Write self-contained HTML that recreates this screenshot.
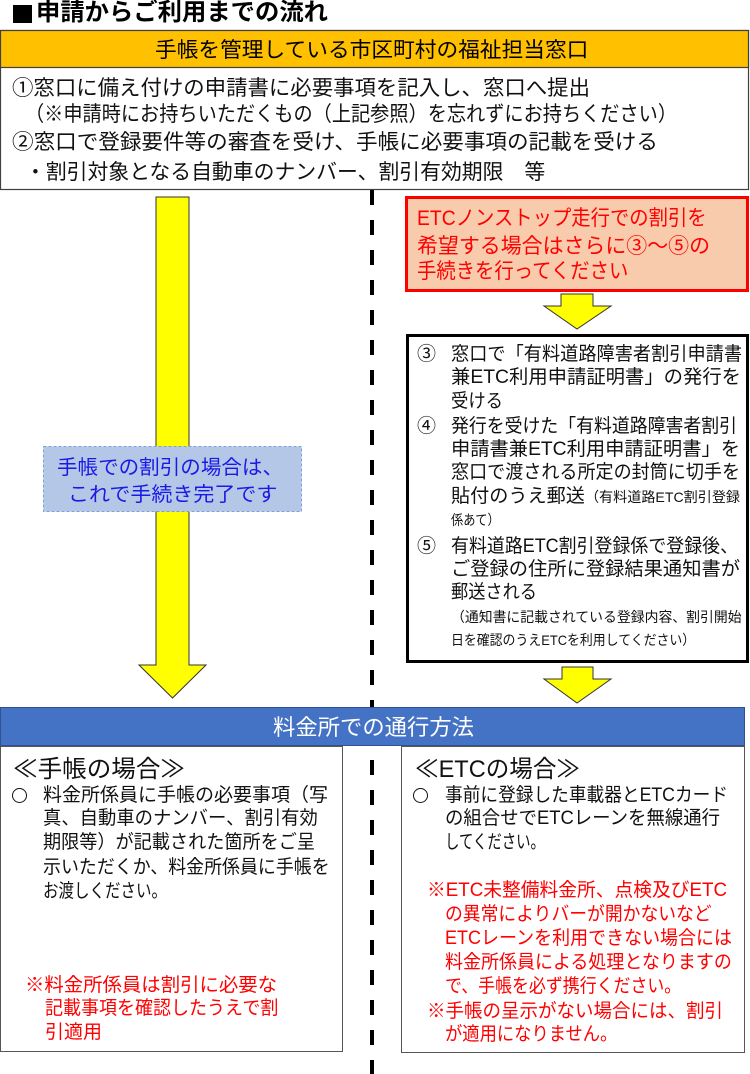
<!DOCTYPE html>
<html><head><meta charset="utf-8">
<style>
html,body{margin:0;padding:0;background:#fff;}
body{width:750px;height:1074px;position:relative;overflow:hidden;font-family:"Liberation Sans","Noto Sans CJK JP",sans-serif;color:#111;}
svg{position:absolute;left:0;top:0;}
.l{position:absolute;white-space:nowrap;}
.l>span{display:inline-block;transform-origin:0 50%;}
.s{font-size:14px;}
.c{position:absolute;width:13px;height:13px;border:1.6px solid #111;border-radius:50%;}
</style></head>
<body>
<svg width="750" height="1074" viewBox="0 0 750 1074">
  <!-- title square -->
  <rect x="13" y="5" width="19" height="18" fill="#000"/>
  <!-- top box -->
  <rect x="0.5" y="30.5" width="748" height="159" fill="#fff" stroke="#404040" stroke-width="1.2"/>
  <rect x="0.5" y="30.5" width="748" height="37" fill="#ffc000" stroke="#404040" stroke-width="1.2"/>
  <!-- dashed divider -->
  <line x1="372" y1="190" x2="372" y2="1074" stroke="#000" stroke-width="4" stroke-dasharray="15 15"/>
  <!-- big arrow -->
  <polygon points="156,197 189,197 189,665 206,665 172.5,698 139,665 156,665" fill="#ffff00" stroke="#333" stroke-width="1"/>
  <!-- blue dashed note -->
  <rect x="43.5" y="446.5" width="258" height="65" fill="#b4c7e7" stroke="#7f9fdc" stroke-width="1" stroke-dasharray="3 2"/>
  <!-- red box -->
  <rect x="406.5" y="197.5" width="341" height="93" fill="#f8cbad" stroke="#ff0000" stroke-width="3"/>
  <!-- small arrow 1 -->
  <polygon points="561,294 593,294 593,306 611,306 577,329 544,306 561,306" fill="#ffff00" stroke="#333" stroke-width="1"/>
  <!-- black box -->
  <rect x="407.5" y="335.5" width="340" height="326" fill="#fff" stroke="#000" stroke-width="3"/>
  <!-- small arrow 2 -->
  <polygon points="562,667 593,667 593,679 611,679 577,703 544,679 562,679" fill="#ffff00" stroke="#333" stroke-width="1"/>
  <!-- blue header -->
  <rect x="0.5" y="707.5" width="744" height="38" fill="#4472c4" stroke="#2f528f" stroke-width="1"/>
  <!-- bottom boxes -->
  <rect x="0.5" y="746.5" width="342" height="305" fill="#fff" stroke="#555" stroke-width="1"/>
  <rect x="401.5" y="746.5" width="343" height="306" fill="#fff" stroke="#555" stroke-width="1"/>
</svg>

<!-- title -->
<div class="l" style="left:36px;top:-2px;width:292px;height:30px;line-height:30px;font-size:24px;font-weight:bold;color:#000"><span>申請からご利用までの流れ</span></div>

<!-- orange header -->
<div class="l" style="left:155px;top:37px;width:433px;height:28px;line-height:28px;font-size:21px;color:#000"><span>手帳を管理している市区町村の福祉担当窓口</span></div>

<!-- top body -->
<div class="l" style="left:12px;top:76px;width:578px;height:26px;line-height:26px;font-size:21px"><span>①窓口に備え付けの申請書に必要事項を記入し、窓口へ提出</span></div>
<div class="l" style="left:25px;top:102px;width:652px;height:26px;line-height:26px;font-size:21px"><span>（※申請時にお持ちいただくもの（上記参照）を忘れずにお持ちください）</span></div>
<div class="l" style="left:12px;top:130px;width:646px;height:26px;line-height:26px;font-size:21px"><span>②窓口で登録要件等の審査を受け、手帳に必要事項の記載を受ける</span></div>
<div class="l" style="left:25px;top:160px;width:520px;height:26px;line-height:26px;font-size:21px"><span>・割引対象となる自動車のナンバー、割引有効期限　等</span></div>

<!-- blue note -->
<div class="l" style="left:57px;top:455px;width:226px;height:26px;line-height:26px;font-size:20px;color:#1a1ae6"><span>手帳での割引の場合は、</span></div>
<div class="l" style="left:68px;top:482px;width:209px;height:26px;line-height:26px;font-size:20px;color:#1a1ae6"><span>これで手続き完了です</span></div>

<!-- red box -->
<div class="l" style="left:417px;top:205px;width:290px;height:28px;line-height:28px;font-size:21px;color:#ff0000"><span>ETCノンストップ走行での割引を</span></div>
<div class="l" style="left:417px;top:233px;width:293px;height:28px;line-height:28px;font-size:21px;color:#ff0000"><span>希望する場合はさらに③～⑤の</span></div>
<div class="l" style="left:417px;top:258px;width:211px;height:28px;line-height:28px;font-size:21px;color:#ff0000"><span>手続きを行ってください</span></div>

<!-- black box -->
<div class="l" style="left:417px;top:343px;width:19px;height:24px;line-height:24px;font-size:19px"><span>③</span></div>
<div class="l" style="left:451px;top:343px;width:291px;height:24px;line-height:24px;font-size:19px"><span>窓口で「有料道路障害者割引申請書</span></div>
<div class="l" style="left:451px;top:366px;width:290px;height:24px;line-height:24px;font-size:19px"><span>兼ETC利用申請証明書」の発行を</span></div>
<div class="l" style="left:451px;top:390px;width:52px;height:24px;line-height:24px;font-size:19px"><span>受ける</span></div>
<div class="l" style="left:417px;top:415px;width:19px;height:24px;line-height:24px;font-size:19px"><span>④</span></div>
<div class="l" style="left:451px;top:415px;width:286px;height:24px;line-height:24px;font-size:19px"><span>発行を受けた「有料道路障害者割引</span></div>
<div class="l" style="left:451px;top:438px;width:289px;height:24px;line-height:24px;font-size:19px"><span>申請書兼ETC利用申請証明書」を</span></div>
<div class="l" style="left:451px;top:461px;width:289px;height:24px;line-height:24px;font-size:19px"><span>窓口で渡される所定の封筒に切手を</span></div>
<div class="l" style="left:451px;top:485px;width:289px;height:24px;line-height:24px;font-size:19px"><span>貼付のうえ郵送<span class="s">（有料道路ETC割引登録</span></span></div>
<div class="l" style="left:451px;top:510px;width:49px;height:20px;line-height:20px;font-size:14px"><span>係あて）</span></div>
<div class="l" style="left:417px;top:535px;width:19px;height:24px;line-height:24px;font-size:19px"><span>⑤</span></div>
<div class="l" style="left:451px;top:535px;width:287px;height:24px;line-height:24px;font-size:19px"><span>有料道路ETC割引登録係で登録後、</span></div>
<div class="l" style="left:451px;top:558px;width:289px;height:24px;line-height:24px;font-size:19px"><span>ご登録の住所に登録結果通知書が</span></div>
<div class="l" style="left:451px;top:581px;width:86px;height:24px;line-height:24px;font-size:19px"><span>郵送される</span></div>
<div class="l" style="left:451px;top:607px;width:291px;height:20px;line-height:20px;font-size:14px"><span>（通知書に記載されている登録内容、割引開始</span></div>
<div class="l" style="left:451px;top:630px;width:244px;height:20px;line-height:20px;font-size:14px"><span>日を確認のうえETCを利用してください）</span></div>

<!-- blue header text -->
<div class="l" style="left:273px;top:714px;width:201px;height:28px;line-height:28px;font-size:22px;color:#fff"><span>料金所での通行方法</span></div>

<!-- left bottom box -->
<div class="l" style="left:13px;top:755px;width:172px;height:30px;line-height:30px;font-size:24px"><span>≪手帳の場合≫</span></div>
<div class="c" style="left:12px;top:788px;"></div>
<div class="l" style="left:43px;top:784px;width:285px;height:24px;line-height:24px;font-size:19px"><span>料金所係員に手帳の必要事項（写</span></div>
<div class="l" style="left:43px;top:807px;width:275px;height:24px;line-height:24px;font-size:19px"><span>真、自動車のナンバー、割引有効</span></div>
<div class="l" style="left:43px;top:831px;width:272px;height:24px;line-height:24px;font-size:19px"><span>期限等）が記載された箇所をご呈</span></div>
<div class="l" style="left:43px;top:856px;width:287px;height:24px;line-height:24px;font-size:19px"><span>示いただくか、料金所係員に手帳を</span></div>
<div class="l" style="left:43px;top:880px;width:124px;height:24px;line-height:24px;font-size:19px"><span>お渡しください。</span></div>
<div class="l" style="left:25px;top:974px;width:252px;height:24px;line-height:24px;font-size:19px;color:#ff0000"><span>※料金所係員は割引に必要な</span></div>
<div class="l" style="left:45px;top:997px;width:233px;height:24px;line-height:24px;font-size:19px;color:#ff0000"><span>記載事項を確認したうえで割</span></div>
<div class="l" style="left:45px;top:1021px;width:57px;height:24px;line-height:24px;font-size:19px;color:#ff0000"><span>引適用</span></div>

<!-- right bottom box -->
<div class="l" style="left:415px;top:755px;width:165px;height:30px;line-height:30px;font-size:24px"><span>≪ETCの場合≫</span></div>
<div class="c" style="left:413px;top:788px;"></div>
<div class="l" style="left:445px;top:784px;width:283px;height:24px;line-height:24px;font-size:19px"><span>事前に登録した車載器とETCカード</span></div>
<div class="l" style="left:445px;top:807px;width:275px;height:24px;line-height:24px;font-size:19px"><span>の組合せでETCレーンを無線通行</span></div>
<div class="l" style="left:445px;top:831px;width:100px;height:24px;line-height:24px;font-size:19px"><span>してください。</span></div>
<div class="l" style="left:427px;top:879px;width:300px;height:24px;line-height:24px;font-size:19px;color:#ff0000"><span>※ETC未整備料金所、点検及びETC</span></div>
<div class="l" style="left:445px;top:903px;width:267px;height:24px;line-height:24px;font-size:19px;color:#ff0000"><span>の異常によりバーが開かないなど</span></div>
<div class="l" style="left:445px;top:927px;width:287px;height:24px;line-height:24px;font-size:19px;color:#ff0000"><span>ETCレーンを利用できない場合には</span></div>
<div class="l" style="left:445px;top:951px;width:287px;height:24px;line-height:24px;font-size:19px;color:#ff0000"><span>料金所係員による処理となりますの</span></div>
<div class="l" style="left:445px;top:975px;width:236px;height:24px;line-height:24px;font-size:19px;color:#ff0000"><span>で、手帳を必ず携行ください。</span></div>
<div class="l" style="left:427px;top:1000px;width:296px;height:24px;line-height:24px;font-size:19px;color:#ff0000"><span>※手帳の呈示がない場合には、割引</span></div>
<div class="l" style="left:445px;top:1023px;width:172px;height:24px;line-height:24px;font-size:19px;color:#ff0000"><span>が適用になりません。</span></div>

<script>
function fit(){
  var ds=document.querySelectorAll('.l');
  for(var i=0;i<ds.length;i++){
    var d=ds[i], s=d.firstElementChild;
    var T=parseFloat(d.style.width);
    if(!T||!s) continue;
    var w=s.offsetWidth;
    if(w>0){ s.style.transform='scaleX('+(T/w)+')'; }
  }
}
fit();
if(document.fonts&&document.fonts.ready){document.fonts.ready.then(fit);}
</script>
</body></html>
